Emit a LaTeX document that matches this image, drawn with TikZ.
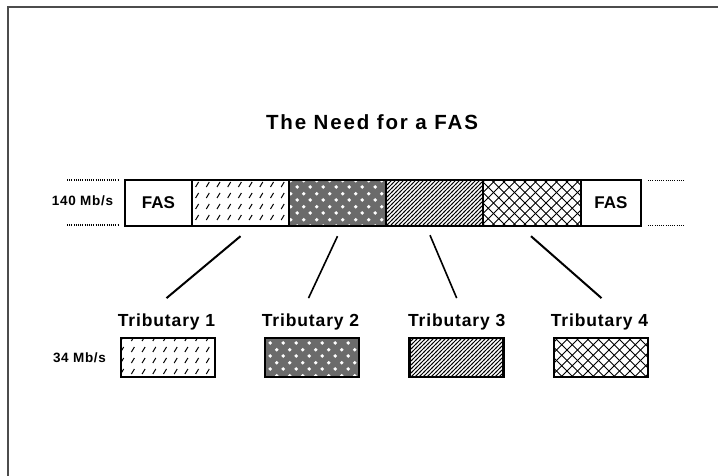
\documentclass[tikz,border=0pt]{standalone}
\usepackage{fontspec}
\setmainfont{Liberation Sans}
\newfontfamily\titlefont[LetterSpace=9]{Liberation Sans Bold}
\newfontfamily\labfont[LetterSpace=5]{Liberation Sans Bold}
\newfontfamily\fasfont{Liberation Sans Bold}
\usetikzlibrary{patterns}

\pgfdeclarepatternformonly{slashdash}{\pgfpoint{-1pt}{-1pt}}{\pgfpoint{11.7pt}{12pt}}{\pgfpoint{10.7pt}{11pt}}{%
  \pgfsetlinewidth{1pt}%
  \pgfpathmoveto{\pgfpoint{3pt}{3pt}}%
  \pgfpathlineto{\pgfpoint{6pt}{8pt}}%
  \pgfusepath{stroke}}

\pgfdeclarepatternformonly{dotlattice}{\pgfpoint{0pt}{0pt}}{\pgfpoint{13.4pt}{13pt}}{\pgfpoint{13.4pt}{13pt}}{%
  \pgfpathcircle{\pgfpoint{3.35pt}{3.25pt}}{2pt}%
  \pgfpathcircle{\pgfpoint{10.05pt}{9.75pt}}{2pt}%
  \pgfusepath{fill}}

\pgfdeclarepatternformonly{denselines}{\pgfpoint{-1pt}{-1pt}}{\pgfpoint{5pt}{5pt}}{\pgfpoint{4pt}{4pt}}{%
  \pgfsetlinewidth{0.9pt}%
  \pgfpathmoveto{\pgfpoint{-1pt}{-1pt}}%
  \pgfpathlineto{\pgfpoint{5pt}{5pt}}%
  \pgfusepath{stroke}}

\pgfdeclarepatternformonly{diamondhatch}{\pgfpoint{-1pt}{-1pt}}{\pgfpoint{11.5pt}{11.5pt}}{\pgfpoint{10.5pt}{10.5pt}}{%
  \pgfsetlinewidth{0.9pt}%
  \pgfpathmoveto{\pgfpoint{0pt}{0pt}}%
  \pgfpathlineto{\pgfpoint{10.5pt}{10.5pt}}%
  \pgfpathmoveto{\pgfpoint{0pt}{10.5pt}}%
  \pgfpathlineto{\pgfpoint{10.5pt}{0pt}}%
  \pgfusepath{stroke}}

\tikzset{
  cell/.style={draw, line width=2.4pt, minimum height=46pt, inner sep=0pt,
    font=\fasfont\fontsize{17}{17}\selectfont},
  tribbox/.style={draw, line width=2.4pt, minimum width=94pt, minimum height=39pt, inner sep=0pt},
  pA/.style={pattern=slashdash},
  pB/.style={preaction={fill=black!58}, pattern=dotlattice, pattern color=white},
  pC/.style={pattern=denselines},
  pD/.style={pattern=diamondhatch},
  link/.style={line width=2pt},
  thinlink/.style={line width=1.6pt},
  dotline/.style={line width=1.2pt, dash pattern=on 1pt off 1.2pt},
  lab/.style={font=\labfont\fontsize{17.5}{17.5}\selectfont, anchor=base, inner sep=0pt},
  rate/.style={font=\labfont\fontsize{13.5}{13.5}\selectfont, anchor=base, inner sep=0pt},
  frame/.style={draw=black!70, line width=2.2pt},
}

\begin{document}
\begin{tikzpicture}[x=1pt,y=-1pt]
\useasboundingbox (0,0) rectangle (718,476);
\fill[white] (0,0) rectangle (718,476);
\draw[frame] (8,476) -- (8,7) -- (718,7);

\node[font=\titlefont\fontsize{20.5}{20.5}\selectfont, anchor=base, inner sep=0pt] (title) at (372,130) {The Need for a FAS};

% main frame
\node[cell, minimum width=67pt] (fasL) at (158.5,203) {FAS};
\node[cell, minimum width=97pt, pA] (t1) at (240.5,203) {};
\node[cell, minimum width=97pt, pB] (t2) at (337.5,203) {};
\node[cell, minimum width=97pt, pC] (t3) at (434.5,203) {};
\node[cell, minimum width=98pt, pD] (t4) at (532,203) {};
\node[cell, minimum width=60pt] (fasR) at (611,203) {FAS};

\node[rate] (r140) at (82.5,206) {140 Mb/s};

\coordinate (dl1) at (67,180);  \coordinate (dl2) at (118,180);
\coordinate (dl3) at (67,225);  \coordinate (dl4) at (118,225);
\coordinate (dr1) at (648,180.5); \coordinate (dr2) at (685,180.5);
\coordinate (dr3) at (648,225.5); \coordinate (dr4) at (685,225.5);
\draw[dotline] (dl1) -- (dl2);
\draw[dotline] (dl3) -- (dl4);
\draw[dotline] (dr1) -- (dr2);
\draw[dotline] (dr3) -- (dr4);

% tributaries
\node[lab] (lab1) at (166.5,326) {Tributary 1};
\node[lab] (lab2) at (310.5,326) {Tributary 2};
\node[lab] (lab3) at (456.7,326) {Tributary 3};
\node[lab] (lab4) at (599.5,326) {Tributary 4};

\node[tribbox, pA] (b1) at (168,357.5) {};
\node[tribbox, pB] (b2) at (312,357.5) {};
\node[tribbox, pC] (b3) at (456.5,357.5) {};
\node[tribbox, pD] (b4) at (601,357.5) {};

\node[rate] (r34) at (79.5,362) {34 Mb/s};

% connectors
\draw[link] ([yshift=-9pt]t1.south) -- ([yshift=15pt]lab1.north);
\draw[thinlink] ([yshift=-9pt]t2.south) -- ([xshift=-2pt,yshift=15pt]lab2.north);
\draw[thinlink] ([xshift=-4.5pt,yshift=-8pt]t3.south) -- ([yshift=15pt]lab3.north);
\draw[link] ([xshift=-1pt,yshift=-9pt]t4.south) -- ([xshift=2pt,yshift=15pt]lab4.north);
\end{tikzpicture}
\end{document}
